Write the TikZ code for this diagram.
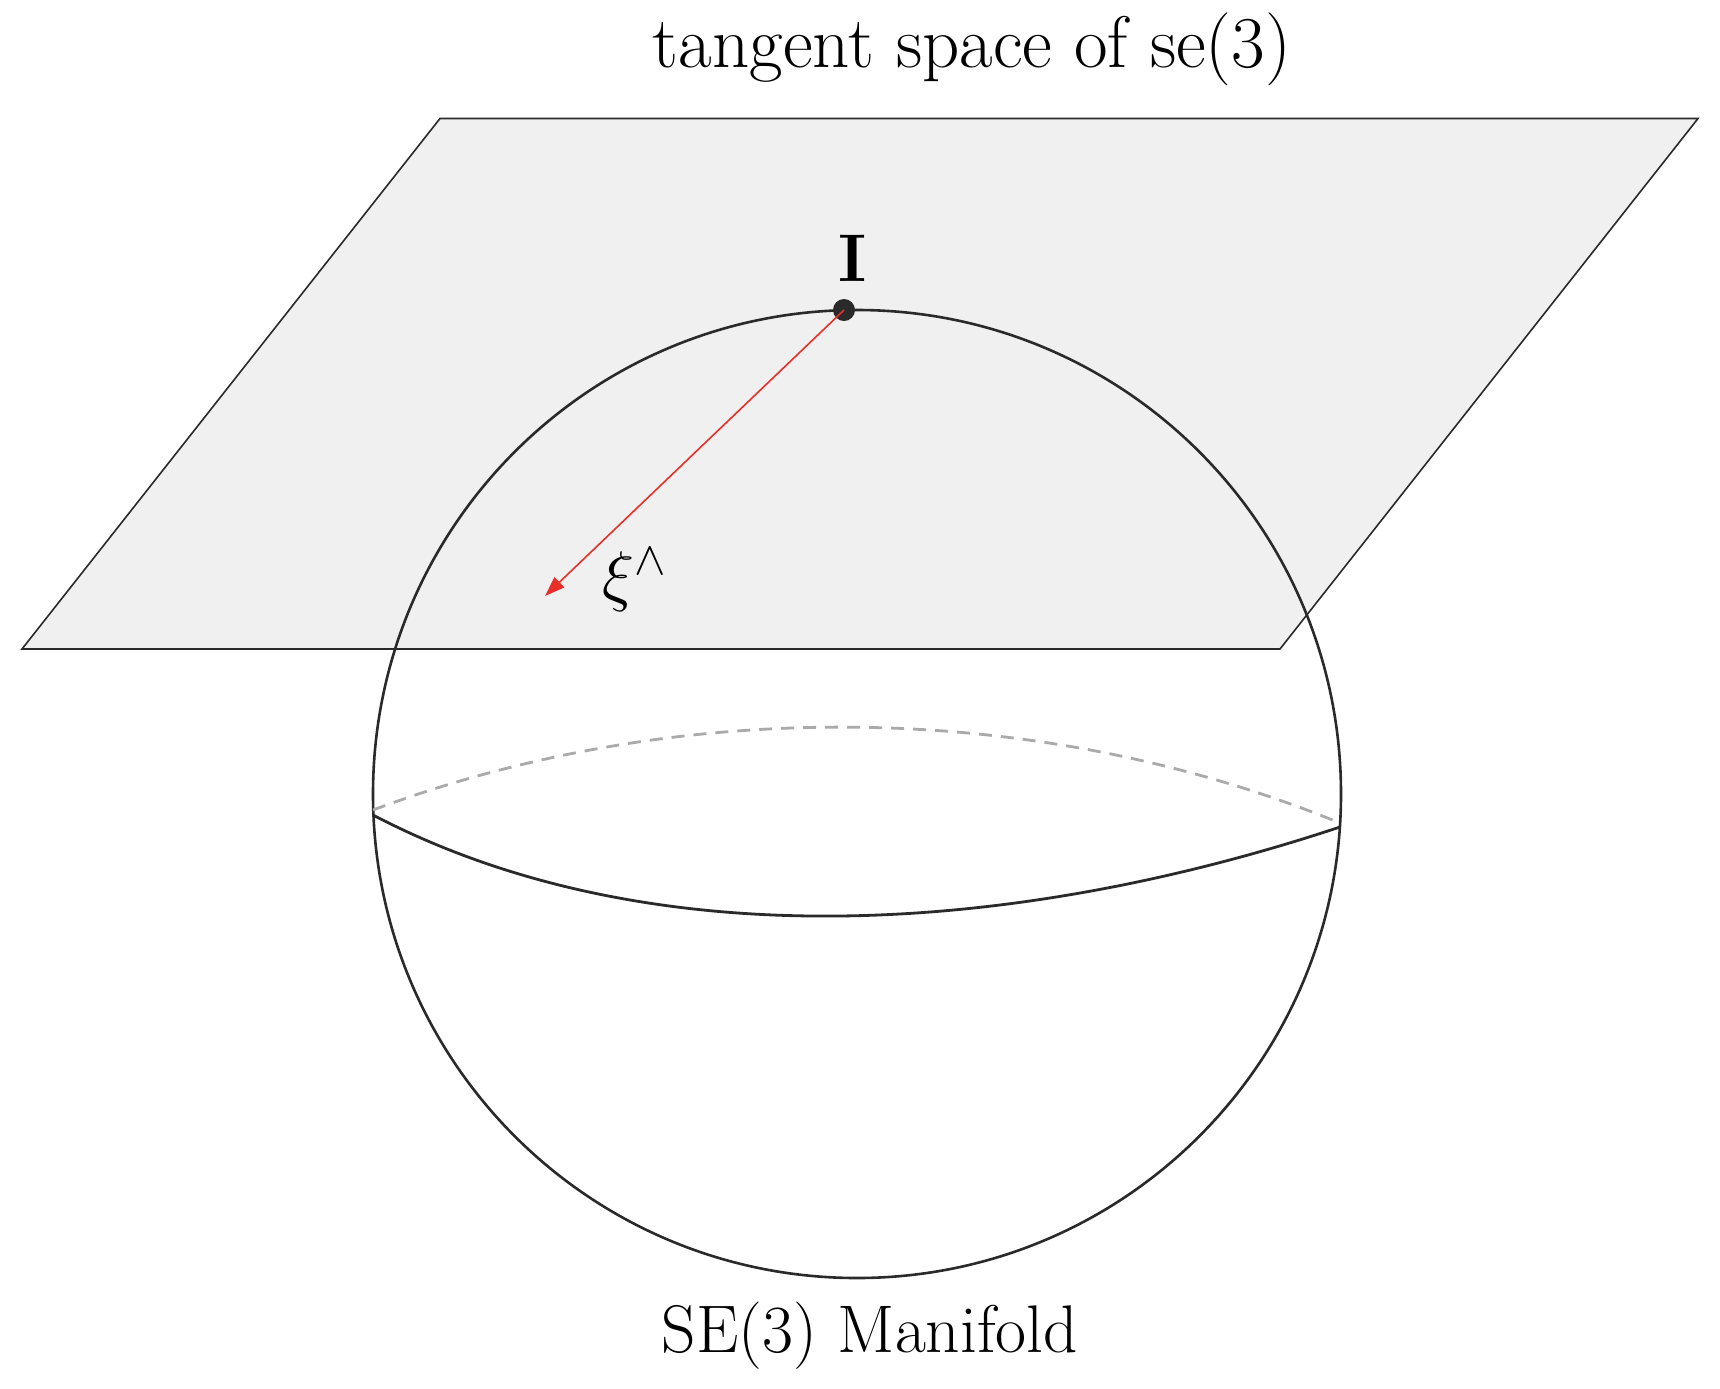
\RequirePackage{fix-cm}
\documentclass[tikz,border=0pt]{standalone}
\usetikzlibrary{arrows.meta}
\definecolor{planefill}{HTML}{F0F0F0}
\definecolor{darkline}{HTML}{2A2A2A}
\definecolor{dashgray}{HTML}{AAAAAA}
\definecolor{arrowred}{HTML}{E8302A}
\tikzset{
  planestyle/.style={fill=planefill, draw=darkline, line width=0.8pt, line join=miter},
  spherestyle/.style={draw=darkline, line width=1.3pt},
  frontequator/.style={draw=darkline, line width=1.4pt},
  backequator/.style={draw=dashgray, line width=1.4pt, dash pattern=on 6.5pt off 4.5pt},
  vecstyle/.style={draw=arrowred, line width=0.8pt, -{Triangle[length=10pt,width=7pt]}},
  dotstyle/.style={circle, fill=darkline, inner sep=0pt, minimum size=11pt},
  bigtext/.style={font=\fontsize{33.7}{40}\selectfont, inner sep=0pt},
  titletext/.style={font=\fontsize{36.5}{44}\selectfont, inner sep=0pt}
}
\begin{document}
\begin{tikzpicture}[x=0.5pt,y=-0.5pt]
\useasboundingbox (0,0) rectangle (1720,1388);
\fill[white] (0,0) rectangle (1720,1388);
% tangent plane
\path[planestyle] (440,118.5) -- (1698,118.5) -- (1280,649) -- (22,649) -- cycle;
% sphere outline
\draw[spherestyle] (857,794) circle[radius=484];
% equator
\draw[backequator] (373,810) .. controls (680,695) and (1040,700) .. (1340,823);
\draw[frontequator] (373,815) .. controls (660,965) and (1030,930) .. (1340,827);
% identity point and tangent vector
\node[dotstyle] (I) at (844,310) {};
\coordinate (xiend) at (545,596);
\draw[vecstyle] (I.center) -- (xiend);
\node[bigtext] (Ilabel) at (853,258) {$\mathbf{I}$};
\node[bigtext] (xilabel) at (635,580) {$\xi^\wedge$};
% titles
\node[titletext] (title) at (972,49) {tangent space of se(3)};
\node[bigtext] (manifold) at (870,1336) {SE(3) Manifold};
\end{tikzpicture}
\end{document}
